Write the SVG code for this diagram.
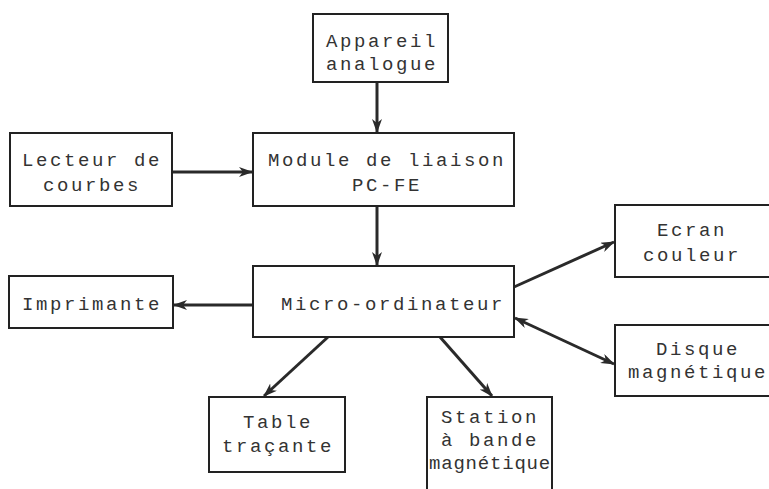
<svg xmlns="http://www.w3.org/2000/svg" width="769" height="489" viewBox="0 0 769 489">
<style>
.box{fill:#fff;stroke:#222;stroke-width:2}
.t{font-family:"Liberation Mono","DejaVu Sans Mono",monospace;font-size:19px;fill:#333;text-anchor:middle;letter-spacing:2.6px}
.c{stroke:#2a2a2a;stroke-width:3;fill:none}
</style>
<defs>
<marker id="ah" markerUnits="userSpaceOnUse" markerWidth="14" markerHeight="10" refX="13" refY="5" orient="auto">
<path d="M0,0 L14,5 L0,10 L4,5 Z" fill="#2a2a2a"/>
</marker>
<marker id="as" markerUnits="userSpaceOnUse" markerWidth="14" markerHeight="10" refX="1" refY="5" orient="auto">
<path d="M14,0 L0,5 L14,10 L10,5 Z" fill="#2a2a2a"/>
</marker>
</defs>
<rect width="769" height="489" fill="#fff"/>
<g id="connectors">
<line class="c" x1="377" y1="82" x2="377" y2="132" marker-end="url(#ah)"/>
<line class="c" x1="172" y1="172" x2="252" y2="172" marker-end="url(#ah)"/>
<line class="c" x1="377" y1="206" x2="377" y2="265" marker-end="url(#ah)"/>
<line class="c" x1="253" y1="305" x2="174" y2="305" marker-end="url(#ah)"/>
<line class="c" x1="514" y1="287" x2="614" y2="242" marker-end="url(#ah)"/>
<line class="c" x1="515" y1="318" x2="614" y2="364" marker-start="url(#as)" marker-end="url(#ah)"/>
<line class="c" x1="328" y1="337" x2="264" y2="396" marker-end="url(#ah)"/>
<line class="c" x1="440" y1="337" x2="492" y2="396" marker-end="url(#ah)"/>
</g>
<g id="appareil">
<rect class="box" x="313" y="14" width="135" height="68"/>
<text class="t" x="382" y="47">Appareil</text>
<text class="t" x="382" y="70">analogue</text>
</g>
<g id="lecteur">
<rect class="box" x="10" y="133" width="162" height="73"/>
<text class="t" x="92" y="166">Lecteur de</text>
<text class="t" x="92" y="191">courbes</text>
</g>
<g id="module">
<rect class="box" x="253" y="133" width="261" height="73"/>
<text class="t" x="387" y="166">Module de liaison</text>
<text class="t" x="387" y="191">PC-FE</text>
</g>
<g id="micro">
<rect class="box" x="253" y="266" width="261" height="71"/>
<text class="t" x="393" y="310">Micro-ordinateur</text>
</g>
<g id="imprimante">
<rect class="box" x="9" y="276" width="164" height="52"/>
<text class="t" x="92" y="310">Imprimante</text>
</g>
<g id="ecran">
<rect class="box" x="615" y="205" width="165" height="72"/>
<text class="t" x="692" y="236">Ecran</text>
<text class="t" x="692" y="261">couleur</text>
</g>
<g id="disque">
<rect class="box" x="615" y="325" width="165" height="71"/>
<text class="t" x="698" y="355">Disque</text>
<text class="t" x="698" y="378">magnétique</text>
</g>
<g id="table">
<rect class="box" x="209" y="397" width="136" height="75"/>
<text class="t" x="278" y="428">Table</text>
<text class="t" x="278" y="452">traçante</text>
</g>
<g id="station">
<rect class="box" x="427" y="397" width="125" height="100"/>
<text class="t" x="490" y="423">Station</text>
<text class="t" x="490" y="446">à bande</text>
<text class="t" x="490" y="469" style="letter-spacing:0.8px">magnétique</text>
</g>
</svg>
